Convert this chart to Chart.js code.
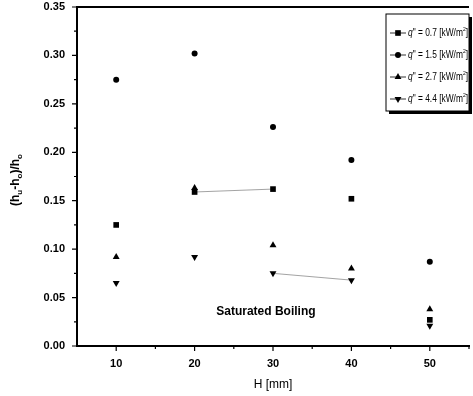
<!DOCTYPE html>
<html>
<head>
    <meta charset="UTF-8">
    <title>Saturated Boiling</title>
    <style>
        body { margin: 0; padding: 0; background: #fff; }
        #chart { display: block; }
    </style>
</head>
<body>
    <canvas id="chart" width="473" height="396"></canvas>

    <script src="https://cdn.jsdelivr.net/npm/chart.js"></script>
    <script>
        // valores
        const heights = [10, 20, 30, 40, 50];
        const q07 = [0.125, 0.159, 0.162, 0.152, 0.027];
        const q15 = [0.275, 0.302, 0.226, 0.192, 0.087];
        const q27 = [0.092, 0.163, 0.104, 0.080, 0.038];
        const q44 = [0.065, 0.092, 0.075, 0.068, 0.021];
        const seriesNames = ['0.7', '1.5', '2.7', '4.4'];
        const xTicks = [10, 20, 30, 40, 50];
        const yTicks = [0, 0.05, 0.10, 0.15, 0.20, 0.25, 0.30, 0.35];

        const FONT = "'Liberation Sans', Arial, sans-serif";
        const toPoints = (ys) => heights.map((h, i) => ({ x: h, y: ys[i] }));

        // so alguns trechos da linha aparecem no original
        function segColor(visible) {
            return (ctx) => visible.includes(ctx.p0DataIndex) ? 'rgba(90,90,90,0.7)' : 'rgba(0,0,0,0)';
        }

        const markers = [
            { style: 'rect', rot: 0, r: 4 },
            { style: 'circle', rot: 0, r: 3 },
            { style: 'triangle', rot: 0, r: 4 },
            { style: 'triangle', rot: 180, r: 4 }
        ];

        const extras = {
            id: 'extras',
            afterDraw(chart) {
                const c = chart.ctx;
                const a = chart.chartArea;
                const xs = chart.scales.x;
                const ys = chart.scales.y;
                c.save();
                c.strokeStyle = '#000';

                // borda superior
                c.lineWidth = 2;
                c.beginPath();
                c.moveTo(a.left, a.top);
                c.lineTo(a.right, a.top);
                c.stroke();

                // ticks maiores e menores
                c.lineWidth = 1.2;
                c.beginPath();
                yTicks.forEach((v, i) => {
                    const py = ys.getPixelForValue(v);
                    c.moveTo(a.left - 5, py); c.lineTo(a.left, py);
                    if (i < yTicks.length - 1) {
                        const pm = ys.getPixelForValue(v + 0.025);
                        c.moveTo(a.left - 3, pm); c.lineTo(a.left, pm);
                    }
                });
                xTicks.forEach((v) => {
                    const px = xs.getPixelForValue(v);
                    c.moveTo(px, a.bottom); c.lineTo(px, a.bottom + 5);
                    const pm = xs.getPixelForValue(v + 5);
                    c.moveTo(pm, a.bottom); c.lineTo(pm, a.bottom + 3);
                });
                c.stroke();

                // titulo do eixo y com subscritos
                c.translate(16, 180);
                c.rotate(-Math.PI / 2);
                c.fillStyle = '#000';
                c.textBaseline = 'middle';
                const parts = [['(h', 0], ['u', 1], ['-h', 0], ['o', 1], [')/h', 0], ['o', 1]];
                let total = 0;
                parts.forEach(([t, sub]) => {
                    c.font = sub ? 'bold 8px ' + FONT : 'bold 12px ' + FONT;
                    total += c.measureText(t).width;
                });
                let cx = -total / 2;
                parts.forEach(([t, sub]) => {
                    c.font = sub ? 'bold 8px ' + FONT : 'bold 12px ' + FONT;
                    c.fillText(t, cx, sub ? 4 : 0);
                    cx += c.measureText(t).width;
                });
                c.setTransform(1, 0, 0, 1, 0, 0);

                // texto no grafico
                c.font = 'bold 12px ' + FONT;
                c.textAlign = 'center';
                c.textBaseline = 'middle';
                c.fillText('Saturated Boiling', xs.getPixelForValue(29.1), ys.getPixelForValue(0.035));

                // legenda
                const bx = 386, by = 14, bw = 83, bh = 97;
                c.fillStyle = '#000';
                c.fillRect(bx + 3, by + 3, bw, bh);
                c.fillStyle = '#fff';
                c.fillRect(bx, by, bw, bh);
                c.lineWidth = 1;
                c.strokeRect(bx, by, bw, bh);
                c.textAlign = 'left';
                chart.data.datasets.forEach((ds, i) => {
                    const ry = by + 19 + i * 22;
                    c.strokeStyle = '#333';
                    c.lineWidth = 1;
                    c.beginPath();
                    c.moveTo(bx + 4, ry); c.lineTo(bx + 20, ry);
                    c.stroke();
                    c.fillStyle = '#000';
                    Chart.helpers.drawPoint(c, {
                        pointStyle: markers[i].style, rotation: markers[i].rot,
                        radius: markers[i].r, borderWidth: 0
                    }, bx + 12, ry);

                    const runs = [
                        ['q', 'italic 10px ' + FONT, 0],
                        ['" = ' + seriesNames[i] + ' [kW/m', '10px ' + FONT, 0],
                        ['2', '6px ' + FONT, -4],
                        [']', '10px ' + FONT, 0]
                    ];
                    let w = 0;
                    runs.forEach(([t, f]) => { c.font = f; w += c.measureText(t).width; });
                    const k = Math.min(1, 60 / w);
                    c.save();
                    c.translate(bx + 22, ry);
                    c.scale(k, 1);
                    let tx = 0;
                    runs.forEach(([t, f, dy]) => {
                        c.font = f;
                        c.fillText(t, tx, dy);
                        tx += c.measureText(t).width;
                    });
                    c.restore();
                });
                c.restore();
            }
        };

        const datasets = [q07, q15, q27, q44].map((ys, i) => ({
            label: 'q" = ' + seriesNames[i] + ' [kW/m2]',
            data: toPoints(ys),
            showLine: true,
            borderWidth: 0.8,
            segment: { borderColor: segColor(i === 0 ? [1] : i === 3 ? [2] : []) },
            pointStyle: markers[i].style,
            rotation: markers[i].rot,
            pointRadius: markers[i].r,
            pointBackgroundColor: '#000',
            pointBorderColor: '#000',
            pointBorderWidth: 0
        }));

        new Chart(document.getElementById('chart'), {
            type: 'scatter',
            data: { datasets: datasets },
            options: {
                responsive: false,
                animation: false,
                layout: { padding: { top: 7, right: 0, left: 0, bottom: 0 } },
                plugins: {
                    legend: { display: false },
                    tooltip: { enabled: false }
                },
                scales: {
                    x: {
                        min: 5, max: 55,
                        afterFit: (s) => { s.height = 50; s.paddingLeft = 0; s.paddingRight = 0; },
                        afterBuildTicks: (s) => { s.ticks = xTicks.map(v => ({ value: v })); },
                        grid: { display: false },
                        border: { display: true, color: '#000', width: 2 },
                        ticks: { color: '#000', font: { family: FONT, size: 11, weight: 'bold' }, padding: 3, maxRotation: 0 },
                        title: { display: true, text: 'H [mm]', color: '#000', font: { family: FONT, size: 12 }, padding: { top: 4 } }
                    },
                    y: {
                        min: 0, max: 0.35,
                        afterFit: (s) => { s.width = 77; s.paddingTop = 0; s.paddingBottom = 0; },
                        afterBuildTicks: (s) => { s.ticks = yTicks.map(v => ({ value: v })); },
                        grid: { display: false },
                        border: { display: true, color: '#000', width: 2 },
                        ticks: {
                            color: '#000', font: { family: FONT, size: 11, weight: 'bold' }, padding: 4,
                            callback: (v) => v.toFixed(2)
                        }
                    }
                }
            },
            plugins: [extras]
        });
    </script>
</body>
</html>
